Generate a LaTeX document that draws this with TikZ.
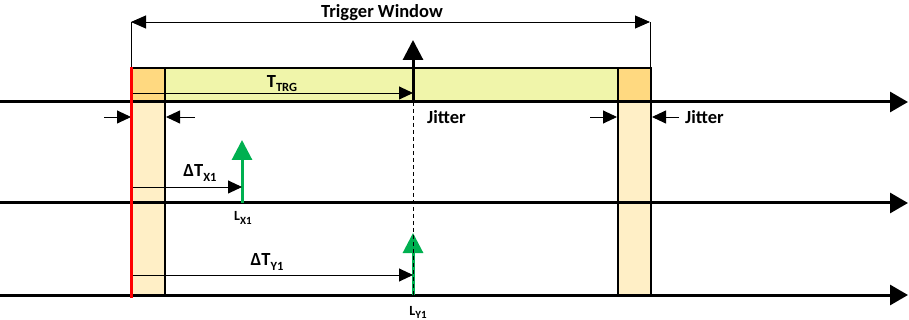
\documentclass[tikz,border=0pt]{standalone}
\usepackage{fontspec}
\setmainfont{Carlito}
\usetikzlibrary{arrows.meta}
\newcommand\lowtext[2]{\raisebox{-0.22em}{\fontsize{#1}{#1}\selectfont #2}}
\definecolor{jitfill}{RGB}{255,217,128}
\definecolor{colfill}{RGB}{255,239,198}
\definecolor{winfill}{RGB}{240,245,170}
\definecolor{evgreen}{RGB}{0,176,80}
\begin{document}
\begin{tikzpicture}[x=1pt,y=-1pt,
  timeline/.style={line width=3pt,-{Triangle[length=18pt,width=20pt]}},
  boxline/.style={line width=1.8pt},
  thinline/.style={line width=0.9pt},
  dimarrow/.style={line width=0.9pt,-{Triangle[length=14pt,width=13pt]}},
  trigarrow/.style={line width=3pt,-{Triangle[length=20pt,width=20pt]}},
  evarrow/.style={line width=3pt,evgreen,-{Triangle[length=20pt,width=20pt]}},
  lbl/.style={inner sep=0pt,font=\fontsize{18.5}{18.5}\selectfont\bfseries},
  smalllbl/.style={inner sep=0pt,font=\fontsize{14}{14}\selectfont\bfseries}
]
\useasboundingbox (0,0) rectangle (909,320);

% key positions
\coordinate (wl) at (131,68);
\coordinate (jl) at (165,68);
\coordinate (jr) at (618,68);
\coordinate (wr) at (651,68);

% jitter columns below the window
\fill[colfill] (131,101) rectangle (165,297);
\fill[colfill] (618,101) rectangle (651,297);
\draw[boxline] (165,101) -- (165,297);
\draw[boxline] (618,101) -- (618,297);
\draw[boxline] (651,101) -- (651,297);

% trigger window bar
\draw[boxline,fill=jitfill] (131,68) rectangle (165,101);
\draw[boxline,fill=winfill] (165,68) rectangle (618,101);
\draw[boxline,fill=jitfill] (618,68) rectangle (651,101);

% time lines
\coordinate (t1s) at (0,102);   \coordinate (t1e) at (908,102);
\coordinate (t2s) at (0,203);   \coordinate (t2e) at (908,203);
\coordinate (t3s) at (0,295);   \coordinate (t3e) at (908,295);
\draw[timeline] (t1s) -- (t1e);
\draw[timeline] (t2s) -- (t2e);
\draw[timeline] (t3s) -- (t3e);

% trigger window dimension
\coordinate (dl) at (131,22);
\coordinate (dr) at (650,22);
\draw[thinline] (wl) -- (dl);
\draw[thinline] (650,68) -- (dr);
\draw[thinline,{Triangle[length=15pt,width=13pt]}-{Triangle[length=15pt,width=13pt]}] (dl) -- (dr);
\node[lbl] (tw) at (382,13) {Trigger Window};

% trigger instant
\coordinate (trg) at (413,102);
\coordinate (trgtop) at (413,40);
\coordinate (trgbot) at (413,295);

% event arrows
\coordinate (lx) at (242,203);
\coordinate (lxtop) at (242,140);
\draw[evarrow] (lx) -- (lxtop);
\coordinate (lytop) at (413,233);
\draw[evarrow] (trgbot) -- (lytop);
\draw[thinline,dash pattern=on 4pt off 3pt] (trg) -- (trgbot);
\draw[trigarrow] (trg) -- (trgtop);

% offset arrows
\draw[dimarrow] (131,93) -- (413,93);
\node[lbl] (ttrg) at (282,84) {T\lowtext{12.5}{TRG}};
\draw[dimarrow] (131,187) -- (242,187);
\node[lbl] (dtx) at (200,173) {ΔT\lowtext{12.5}{X1}};
\draw[dimarrow] (131,275) -- (413,275);
\node[lbl] (dty) at (267,262) {ΔT\lowtext{12.5}{Y1}};
\node[smalllbl] (lxl) at (243,218) {L\lowtext{11}{X1}};
\node[smalllbl] (lyl) at (418,312) {L\lowtext{11}{Y1}};

% jitter markers
\draw[dimarrow] (104,117) -- (131,117);
\draw[dimarrow] (195,117) -- (166,117);
\draw[dimarrow] (590,117) -- (617,117);
\draw[dimarrow] (679,117) -- (652,117);
\node[lbl,anchor=west] (jit1) at (427,117) {Jitter};
\node[lbl,anchor=west] (jit2) at (685,117) {Jitter};

% window start marker
\draw[line width=3pt,red] (131,67) -- (131,298);
\end{tikzpicture}
\end{document}
